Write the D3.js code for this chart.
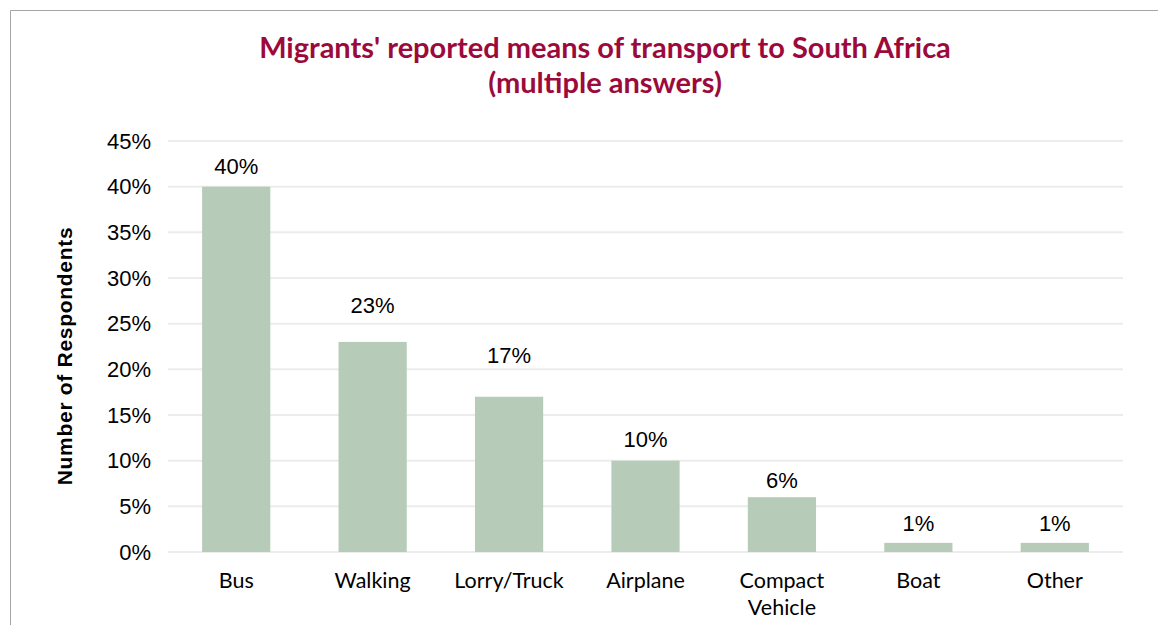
<!DOCTYPE html>
<html>
<head>
<meta charset="utf-8">
<script src="https://cdn.jsdelivr.net/npm/d3@7"></script>
<style>
  body { margin: 0; background: #fff; }
  svg { display: block; }
</style>
</head>
<body>
<svg id="chart" width="1158" height="625"></svg>
<script>
// data
const categories = ["Bus", "Walking", "Lorry/Truck", "Airplane", "Compact Vehicle", "Boat", "Other"]
const values = [40, 23, 17, 10, 6, 1, 1]
const yTicks = [0, 5, 10, 15, 20, 25, 30, 35, 40, 45]
// distance from bar top to label baseline (labels were hand placed in the original)
const labelGap = [13, 29, 34, 14, 9, 12, 12]

const margin = {top: 141, right: 35, bottom: 73, left: 168}
const width = 1158, height = 625
const innerWidth = width - margin.left - margin.right
const innerHeight = height - margin.top - margin.bottom

const svg = d3.select('#chart')

//outer frame, only left and top edges show
svg.append('path')
  .attr('d', `M10.5,${height} V10.5 H${width}`)
  .attr('fill', 'none').attr('stroke', '#a6a6a6').attr('stroke-width', 1)

//title
const title = svg.append('text')
  .attr('text-anchor', 'middle')
  .attr('font-family', 'Lato, sans-serif')
  .attr('font-weight', 'bold')
  .attr('font-size', 29)
  .attr('fill', '#9c0a3c')
title.append('tspan').attr('x', 605).attr('y', 58).text("Migrants' reported means of transport to South Africa")
title.append('tspan').attr('x', 605).attr('y', 93).text("(multiple answers)")

const g = svg.append('g').attr('transform', `translate(${margin.left},${margin.top})`)

const x = d3.scaleBand().domain(categories).range([0, innerWidth]).paddingInner(0.5).paddingOuter(0.25)
const y = d3.scaleLinear().domain([0, 45]).range([innerHeight, 0])

//gridlines
g.append('g')
  .selectAll('line')
  .data(yTicks)
  .join('line')
  .attr('x1', 0).attr('x2', innerWidth)
  .attr('y1', d => y(d)).attr('y2', d => y(d))
  .attr('stroke', '#ececec').attr('stroke-width', 2)

//y axis labels
const yAxis = g.append('g')
  .call(d3.axisLeft(y).tickValues(yTicks).tickFormat(d => d + '%').tickSize(0).tickPadding(17))
yAxis.select('.domain').remove()
yAxis.selectAll('text')
  .attr('font-family', '"Liberation Sans", Arial, sans-serif')
  .attr('font-size', 22)
  .attr('fill', '#000')

//bars
g.append('g')
  .selectAll('rect')
  .data(values)
  .join('rect')
  .attr('x', (d, i) => x(categories[i]))
  .attr('y', d => y(d))
  .attr('width', x.bandwidth())
  .attr('height', d => innerHeight - y(d))
  .attr('fill', '#b6cbb8')

//data labels
g.append('g')
  .selectAll('text')
  .data(values)
  .join('text')
  .attr('x', (d, i) => x(categories[i]) + x.bandwidth() / 2)
  .attr('y', (d, i) => y(d) - labelGap[i])
  .attr('text-anchor', 'middle')
  .attr('font-family', '"Liberation Sans", Arial, sans-serif')
  .attr('font-size', 22)
  .attr('fill', '#000')
  .text(d => d + '%')

//x labels, wrap two-word long label
const xl = g.append('g')
  .selectAll('text')
  .data(categories)
  .join('text')
  .attr('text-anchor', 'middle')
  .attr('font-family', 'Lato, "Open Sans", sans-serif')
  .attr('font-size', 21.5)
  .attr('fill', '#000')
xl.each(function(d) {
  const cx = x(d) + x.bandwidth() / 2
  const words = d === "Compact Vehicle" ? ["Compact", "Vehicle"] : [d]
  words.forEach((w, i) => {
    d3.select(this).append('tspan').attr('x', cx).attr('y', innerHeight + 36 + i * 27).text(w)
  })
})

//y axis title
svg.append('text')
  .attr('transform', 'translate(72,356) rotate(-90)')
  .attr('text-anchor', 'middle')
  .attr('font-family', '"Liberation Sans", Arial, sans-serif')
  .attr('font-weight', 'bold')
  .attr('font-size', 21)
  .attr('letter-spacing', 0.7)
  .attr('fill', '#000')
  .text('Number of  Respondents')
</script>
</body>
</html>
